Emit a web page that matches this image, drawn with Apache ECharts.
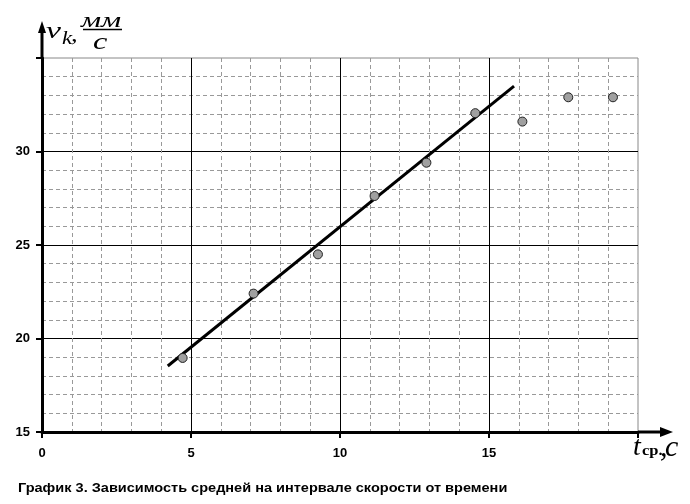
<!DOCTYPE html>
<html>
<head>
<meta charset="utf-8">
<script src="https://cdn.jsdelivr.net/npm/echarts@6/dist/echarts.min.js"></script>
<style>
  html, body {margin: 0; padding: 0; background: #fff;}
  #chart {width: 690px; height: 504px;}
</style>
</head>
<body>
<div id="chart"></div>
<script>
// measured points, t (s) and v (mm/s)
const t_points = [4.72, 7.1, 9.26, 11.16, 12.9, 14.54, 16.12, 17.66, 19.16];
const v_points = [18.96, 22.4, 24.5, 27.62, 29.4, 32.05, 31.6, 32.9, 32.9];
// fitted straight line, two ends
const fit_t = [4.22, 15.84];
const fit_v = [18.53, 33.5];
const x_labels = ['0', '5', '10', '15', ''];
const y_labels = ['15', '20', '25', '30', ''];
const caption = 'График 3. Зависимость средней на интервале скорости от времени';

const chart = echarts.init(document.getElementById('chart'));

const label_style = {
    color: '#000', fontFamily: 'Liberation Sans', fontWeight: 'bold', fontSize: 13
};

const axis_common = {
    type: 'value',
    interval: 5,
    axisLine: {show: true, lineStyle: {color: '#000', width: 3}},
    axisTick: {show: true, length: 6, lineStyle: {color: '#000', width: 2}},
    splitLine: {show: true, showMaxLine: false, lineStyle: {color: '#000', width: 1}},
    minorTick: {show: false, splitNumber: 5},
    minorSplitLine: {show: true, lineStyle: {color: '#999', width: 1, type: [4, 3]}}
};

chart.setOption({
    animation: false,
    grid: {left: 42, right: 52, top: 58, bottom: 72, show: true, borderColor: '#888', borderWidth: 1},
    xAxis: Object.assign({}, axis_common, {
        min: 0, max: 20,
        axisLabel: Object.assign({}, label_style, {
            margin: 15, formatter: (v) => x_labels[Math.round(v / 5)]
        })
    }),
    yAxis: Object.assign({}, axis_common, {
        min: 15, max: 35,
        axisLabel: Object.assign({}, label_style, {
            margin: 12, formatter: (v) => y_labels[Math.round((v - 15) / 5)]
        })
    }),
    series: [
        {
            type: 'line',
            data: fit_t.map((t, i) => [t, fit_v[i]]),
            symbol: 'none',
            lineStyle: {color: '#000', width: 3},
            z: 3
        },
        {
            type: 'scatter',
            data: t_points.map((t, i) => [t, v_points[i]]),
            symbolSize: 9,
            itemStyle: {color: '#a0a0a0', borderColor: '#222', borderWidth: 1, opacity: 1},
            z: 4
        }
    ]
});

// axis arrows past the grid, and the axis names
const origin = chart.convertToPixel({gridIndex: 0}, [0, 15]);
const corner = chart.convertToPixel({gridIndex: 0}, [20, 35]);
const serif = 'Liberation Serif';

// text placed by its top edge, stretched sideways like the picture
function word(text, font, x, y, sx) {
    return {type: 'text', x: x, y: y, scaleX: sx || 1,
        style: {text: text, font: font, fill: '#000', verticalAlign: 'top'}};
}

chart.setOption({
    graphic: [
        {type: 'line', shape: {x1: corner[0], y1: origin[1], x2: 664, y2: origin[1]},
            style: {stroke: '#000', lineWidth: 3}, z: 10},
        {type: 'polygon', shape: {points: [[673, origin[1]], [660, origin[1] - 5], [660, origin[1] + 5]]},
            style: {fill: '#000'}, z: 10},
        {type: 'line', shape: {x1: origin[0], y1: corner[1], x2: origin[0], y2: 30},
            style: {stroke: '#000', lineWidth: 3}, z: 10},
        {type: 'polygon', shape: {points: [[origin[0], 21], [origin[0] - 4, 33], [origin[0] + 4, 33]]},
            style: {fill: '#000'}, z: 10},

        // v_k , мм/с
        word('v', 'italic 24px ' + serif, 46, 20, 1.4),
        word('k', 'italic 19px ' + serif, 62, 29, 1.2),
        word(',', 'italic 22px ' + serif, 71, 24, 1.2),
        word('мм', 'italic 21px ' + serif, 81, 11, 1.5),
        {type: 'line', shape: {x1: 83, y1: 29.5, x2: 122, y2: 29.5}, style: {stroke: '#000', lineWidth: 1.5}},
        word('с', 'italic 24px ' + serif, 93, 31, 1.35),

        // t_ср., с
        word('t', 'italic 28px ' + serif, 633, 434),
        word('ср.', 'bold 15px ' + serif, 642, 443.5, 1.1),
        word(',', 'italic 30px ' + serif, 660, 433),
        word('с', 'italic 30px ' + serif, 665, 433),

        word(caption, 'bold 13px Liberation Sans', 18, 482, 1.117)
    ]
});
</script>
</body>
</html>
